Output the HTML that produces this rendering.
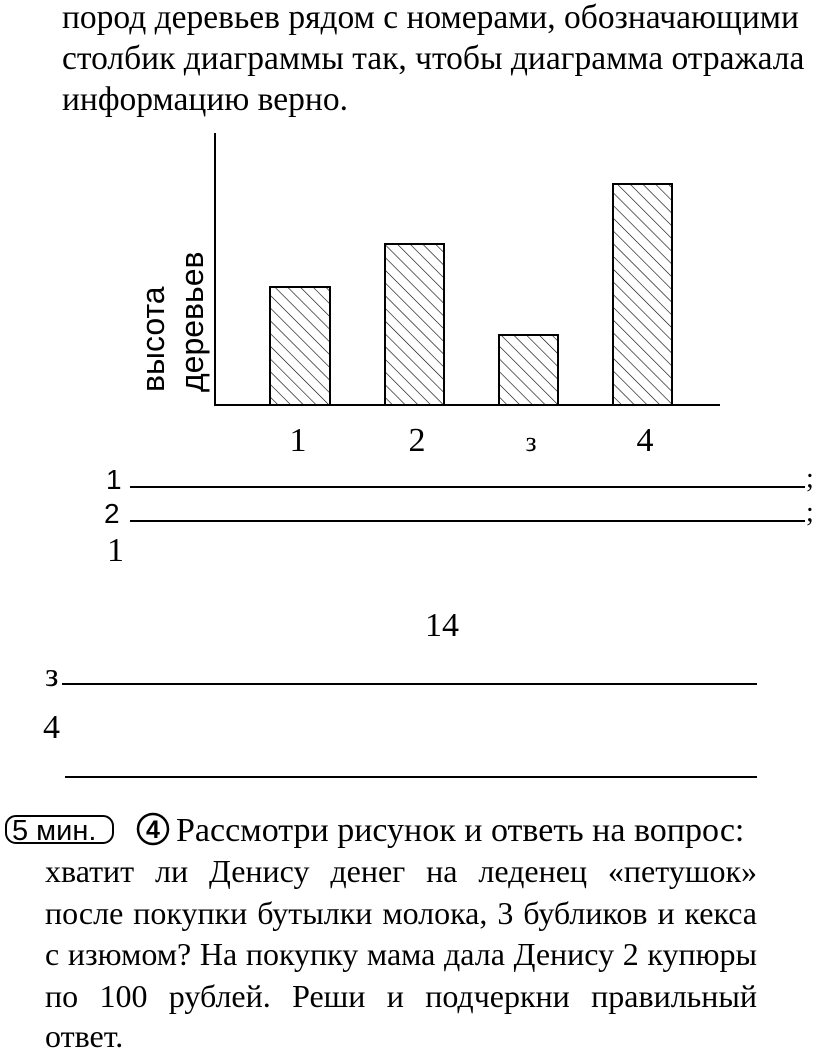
<!DOCTYPE html>
<html><head><meta charset="utf-8"><style>
body{margin:0;width:816px;height:1058px;background:#fff;position:relative;overflow:hidden;font-family:"Liberation Serif",serif;color:#000}
.a{position:absolute;white-space:nowrap}
.t{font-size:33.5px;line-height:41px}
.j{position:absolute;left:45px;width:712px;font-size:32px;line-height:41.5px;text-align:justify;text-align-last:justify;white-space:nowrap}
</style></head><body>
<div class="a t" style="left:62px;top:-3px">пород деревьев рядом с номерами, обозначающими</div>
<div class="a t" style="left:62px;top:38px">столбик диаграммы так, чтобы диаграмма отражала</div>
<div class="a t" style="left:62px;top:79px">информацию верно.</div>
<svg class="a" style="left:0;top:0" width="816" height="1058">
<defs><pattern id="h" width="9" height="9" patternUnits="userSpaceOnUse" patternTransform="rotate(-45)"><line x1="0" y1="0" x2="0" y2="9" stroke="#000" stroke-width="1.2"/></pattern></defs>
<line x1="215" y1="133" x2="215" y2="406" stroke="#000" stroke-width="2"/>
<line x1="214" y1="405" x2="720" y2="405" stroke="#000" stroke-width="2"/>
<g fill="url(#h)" stroke="#000" stroke-width="2">
<rect x="270" y="287" width="60" height="118"/>
<rect x="385" y="244" width="59" height="161"/>
<rect x="499" y="335" width="59" height="70"/>
<rect x="613" y="184" width="59" height="221"/>
</g>
<text transform="translate(164,392) rotate(-90)" font-family="Liberation Sans" font-size="32">высота</text>
<text transform="translate(203,392) rotate(-90)" font-family="Liberation Sans" font-size="32">деревьев</text>
<g font-size="34" font-family="Liberation Serif" text-anchor="middle">
<text x="298" y="451">1</text><text x="417" y="451">2</text><text x="531" y="451" font-size="28">з</text><text x="645" y="451">4</text>
</g>
<g stroke="#000" stroke-width="2">
<line x1="130" y1="487" x2="805" y2="487"/>
<line x1="130" y1="521" x2="805" y2="521"/>
<line x1="62" y1="684" x2="757" y2="684"/>
<line x1="65" y1="777" x2="757" y2="777"/>
</g>
<g font-family="Liberation Sans" font-size="28"><text x="106" y="489">1</text><text x="104" y="523">2</text></g>
<g font-size="28"><text x="806" y="487">;</text><text x="806" y="521">;</text></g>
<g font-size="34" font-family="Liberation Serif">
<text x="107" y="561">1</text><text x="425" y="636">14</text><text x="45" y="686">з</text><text x="43" y="738">4</text>
</g>
<rect x="6" y="816" width="107" height="27" rx="10" fill="none" stroke="#000" stroke-width="2"/>
<text x="12" y="840" font-family="Liberation Sans" font-size="29">5 мин.</text>
<circle cx="153" cy="829" r="15" fill="none" stroke="#000" stroke-width="2.5"/>
<text x="153" y="838" text-anchor="middle" font-family="Liberation Sans" font-weight="bold" font-size="25">4</text>
</svg>
<div class="a" style="left:176px;top:810px;font-size:34px;line-height:41px">Рассмотри рисунок и ответь на вопрос:</div>
<div class="j" style="top:851px">хватит ли Денису денег на леденец «петушок»</div>
<div class="j" style="top:893px">после покупки бутылки молока, 3 бубликов и кекса</div>
<div class="j" style="top:934px">с изюмом? На покупку мама дала Денису 2 купюры</div>
<div class="j" style="top:976px">по 100 рублей. Реши и подчеркни правильный</div>
<div class="a" style="left:45px;top:1016px;font-size:32px;line-height:41px">ответ.</div>
</body></html>
